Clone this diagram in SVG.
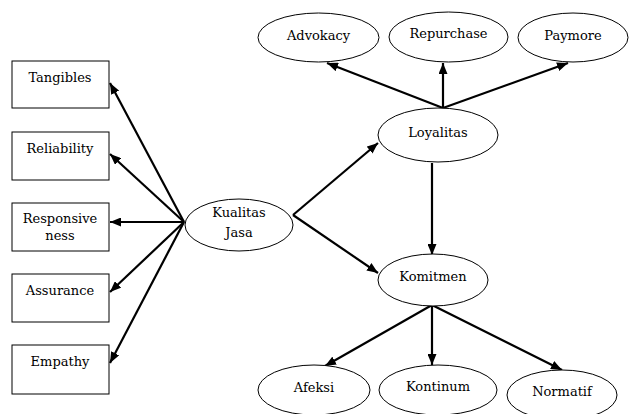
<svg xmlns="http://www.w3.org/2000/svg" width="629" height="414" viewBox="0 0 629 414">
<style>
.n{fill:#fff;stroke:#000;stroke-width:1}
text{font-family:'DejaVu Serif','Liberation Serif',serif;font-size:13px;fill:#000;text-anchor:middle}
.c{stroke:#000;stroke-width:2.2;fill:none;marker-end:url(#ah)}
</style>
<defs>
<marker id="ah" markerUnits="userSpaceOnUse" markerWidth="11" markerHeight="9" refX="11" refY="4.5" orient="auto">
<path d="M0,0 L11,4.5 L0,9 z" fill="#000"/>
</marker>
</defs>
<rect width="629" height="414" fill="#fff"/>
<g id="connectors">
<line class="c" x1="184" y1="222" x2="110" y2="83"/>
<line class="c" x1="184" y1="222" x2="110" y2="154"/>
<line class="c" x1="184" y1="222" x2="110" y2="222"/>
<line class="c" x1="184" y1="222" x2="110" y2="292"/>
<line class="c" x1="184" y1="222" x2="110" y2="363"/>
<line class="c" x1="293" y1="215" x2="378" y2="143"/>
<line class="c" x1="293" y1="215" x2="378" y2="273"/>
<line class="c" x1="443" y1="108" x2="327" y2="63"/>
<line class="c" x1="443" y1="108" x2="443" y2="63"/>
<line class="c" x1="443" y1="108" x2="568" y2="63"/>
<line class="c" x1="432" y1="163" x2="432" y2="255"/>
<line class="c" x1="432" y1="305" x2="325" y2="366"/>
<line class="c" x1="432" y1="305" x2="432" y2="365"/>
<line class="c" x1="432" y1="305" x2="562" y2="370"/>
</g>
<g id="tangibles"><rect class="n" x="12" y="61" width="97" height="47"/><text x="60" y="82">Tangibles</text></g>
<g id="reliability"><rect class="n" x="12" y="132" width="97" height="48"/><text x="60" y="153">Reliability</text></g>
<g id="responsiveness"><rect class="n" x="12" y="203" width="97" height="48"/><text x="60" y="223">Responsive</text><text x="60" y="240">ness</text></g>
<g id="assurance"><rect class="n" x="12" y="274" width="97" height="48"/><text x="60" y="295">Assurance</text></g>
<g id="empathy"><rect class="n" x="12" y="345" width="97" height="49"/><text x="60" y="366">Empathy</text></g>
<g id="kualitas"><ellipse class="n" cx="239" cy="225" rx="54" ry="26"/><text x="239" y="217">Kualitas</text><text x="239" y="237">Jasa</text></g>
<g id="loyalitas"><ellipse class="n" cx="438" cy="135" rx="60" ry="27"/><text x="438" y="137">Loyalitas</text></g>
<g id="komitmen"><ellipse class="n" cx="433" cy="280" rx="55" ry="26"/><text x="433" y="281">Komitmen</text></g>
<g id="advokacy"><ellipse class="n" cx="318.5" cy="37.5" rx="60.5" ry="24.5"/><text x="318.5" y="40">Advokacy</text></g>
<g id="repurchase"><ellipse class="n" cx="448.5" cy="37" rx="59.5" ry="25"/><text x="448.5" y="38">Repurchase</text></g>
<g id="paymore"><ellipse class="n" cx="573" cy="37.5" rx="55" ry="24.5"/><text x="573" y="40">Paymore</text></g>
<g id="afeksi"><ellipse class="n" cx="314" cy="390" rx="56" ry="25"/><text x="314" y="392">Afeksi</text></g>
<g id="kontinum"><ellipse class="n" cx="438" cy="390" rx="59" ry="25"/><text x="438" y="391">Kontinum</text></g>
<g id="normatif"><ellipse class="n" cx="562" cy="395" rx="55" ry="25"/><text x="562" y="396">Normatif</text></g>
</svg>
